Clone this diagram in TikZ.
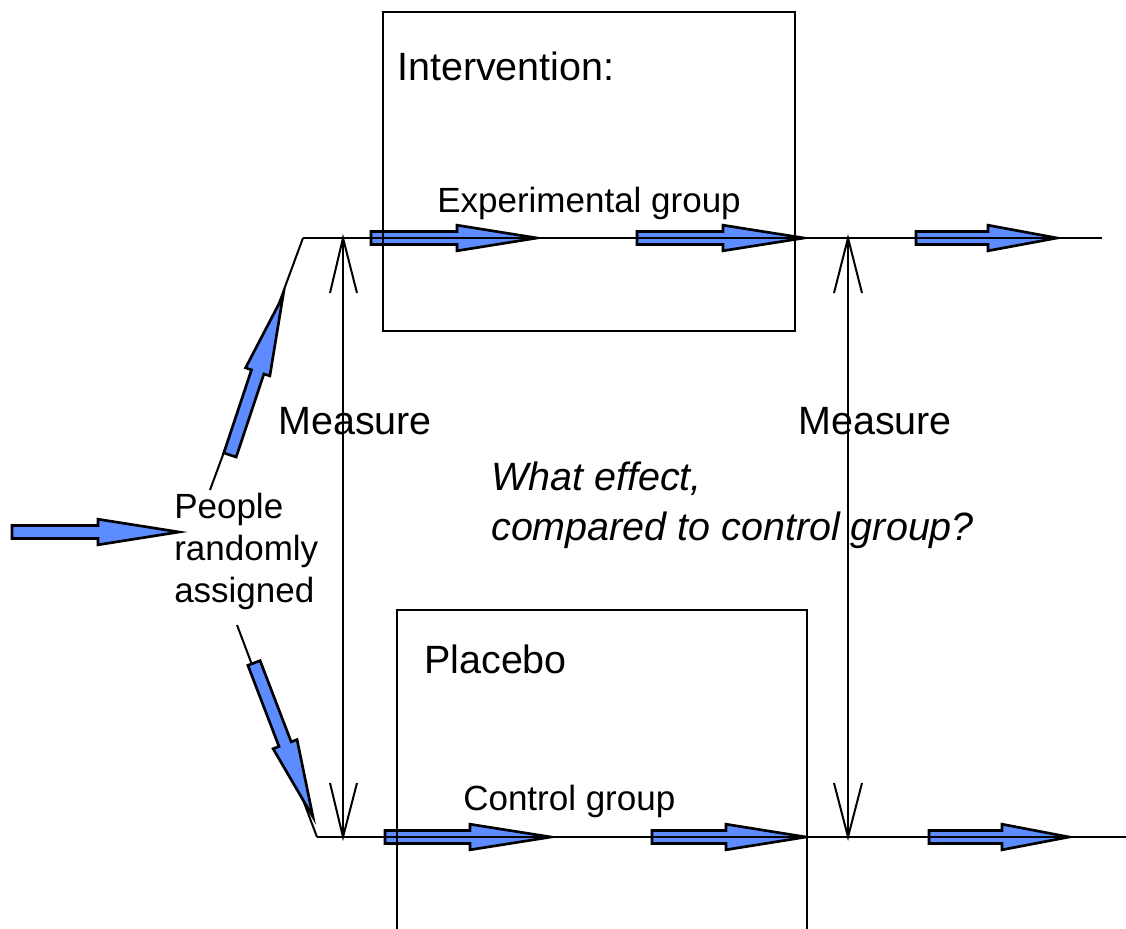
\documentclass[tikz,border=0pt]{standalone}
\usepackage{fontspec}
\setmainfont{Liberation Sans}
\usetikzlibrary{calc}
\definecolor{arrowblue}{RGB}{92,140,255}
\tikzset{
  thinline/.style={line width=1.5pt, line cap=butt},
  blockarrowstyle/.style={fill=arrowblue, draw=black, line width=2pt, line join=miter},
  bigtext/.style={font=\fontsize{29.6}{35}\selectfont, inner sep=0pt, anchor=base west},
  smalltext/.style={font=\fontsize{26.25}{31}\selectfont, inner sep=0pt, anchor=base west},
  italictext/.style={font=\fontsize{29.6}{35}\selectfont\itshape, inner sep=0pt, anchor=base west},
}
% #1 tail, #2 tip, #3 head length
\newcommand\blockarrow[3]{%
  \coordinate (ba-h) at ($(#2)!#3!(#1)$);
  \filldraw[blockarrowstyle]
    ($(#1)!4.9pt!90:(#2)$) -- ($(ba-h)!4.9pt!90:(#2)$) -- ($(ba-h)!9.6pt!90:(#2)$) -- (#2)
    -- ($(ba-h)!9.6pt!-90:(#2)$) -- ($(ba-h)!4.9pt!-90:(#2)$) -- ($(#1)!4.9pt!-90:(#2)$) -- cycle;
}
\begin{document}
\begin{tikzpicture}[x=0.75pt,y=-0.75pt]
\useasboundingbox (0,0) rectangle (1126,928);

% key points
\coordinate (topcorner) at (303,238);
\coordinate (topend) at (1102,238);
\coordinate (upstart) at (210,490);
\coordinate (downstart) at (237,625);
\coordinate (botcorner) at (317,837);
\coordinate (botend) at (1126,837);

% diagonal lines
\draw[thinline] (upstart) -- (topcorner);
\draw[thinline] (downstart) -- (botcorner);

% block arrow ends
\coordinate (in-t) at (12,532);   \coordinate (in-h) at (179,532);
\coordinate (up-t) at (230,455);  \coordinate (up-h) at (283,296);
\coordinate (dn-t) at (254,663);  \coordinate (dn-h) at (313,817);
\coordinate (a1-t) at (371,238);  \coordinate (a1-h) at (537,238);
\coordinate (a2-t) at (637,238);  \coordinate (a2-h) at (804,238);
\coordinate (a3-t) at (916,238);  \coordinate (a3-h) at (1057,238);
\coordinate (b1-t) at (385,837);  \coordinate (b1-h) at (551,837);
\coordinate (b2-t) at (652,837);  \coordinate (b2-h) at (806,837);
\coordinate (b3-t) at (929,837);  \coordinate (b3-h) at (1069,837);

\blockarrow{in-t}{in-h}{60.75pt}
\blockarrow{up-t}{up-h}{60pt}
\blockarrow{dn-t}{dn-h}{58.5pt}
\blockarrow{a1-t}{a1-h}{60pt}
\blockarrow{a2-t}{a2-h}{60.75pt}
\blockarrow{a3-t}{a3-h}{51.75pt}
\blockarrow{b1-t}{b1-h}{60.75pt}
\blockarrow{b2-t}{b2-h}{60pt}
\blockarrow{b3-t}{b3-h}{50.25pt}

% horizontal lines
\draw[thinline] (topcorner) -- (topend);
\draw[thinline] (botcorner) -- (botend);

% boxes
\draw[thinline] (383,12) rectangle (795,331);
\draw[thinline] (397,930) -- (397,610) -- (807,610) -- (807,930);

% measure arrows
\coordinate (m1-top) at (343,238); \coordinate (m1-bot) at (343,837);
\coordinate (m2-top) at (848,238); \coordinate (m2-bot) at (848,837);
\draw[thinline] (m1-top) -- (m1-bot);
\draw[thinline] (m2-top) -- (m2-bot);
\draw[thinline] ($(m1-top)+(-13,55)$) -- (m1-top) -- ($(m1-top)+(14,55)$);
\draw[thinline] ($(m1-bot)+(-13,-54)$) -- (m1-bot) -- ($(m1-bot)+(14,-54)$);
\draw[thinline] ($(m2-top)+(-14,55)$) -- (m2-top) -- ($(m2-top)+(14,55)$);
\draw[thinline] ($(m2-bot)+(-14,-54)$) -- (m2-bot) -- ($(m2-bot)+(14,-54)$);

% texts
\node[bigtext] (intervention) at (397,80) {Intervention:};
\node[smalltext] (expgroup) at (437,212) {Experimental group};
\node[bigtext] (measure1) at (278,434) {Measure};
\node[bigtext] (measure2) at (798,434) {Measure};
\node[smalltext] (people1) at (174,518) {People};
\node[smalltext] (people2) at (174,560) {randomly};
\node[smalltext] (people3) at (174,602) {assigned};
\node[italictext] (q1) at (491,490) {What effect,};
\node[italictext] (q2) at (491,540) {compared to control group?};
\node[bigtext] (placebo) at (424,673) {Placebo};
\node[smalltext] (ctrlgroup) at (463,810) {Control group};
\end{tikzpicture}
\end{document}
